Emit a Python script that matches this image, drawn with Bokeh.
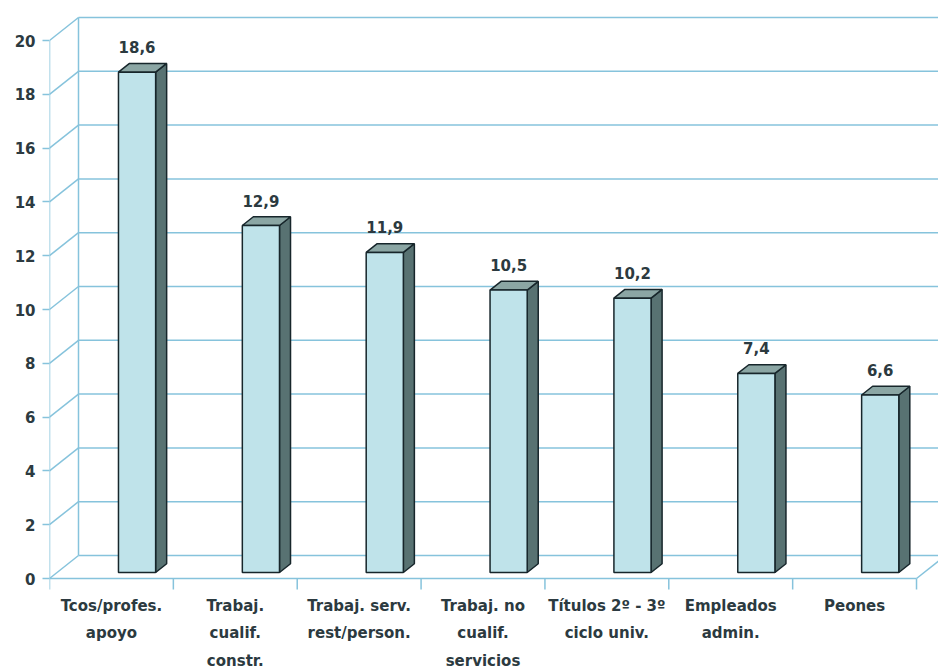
from bokeh.plotting import figure
from bokeh.models import Range1d, LinearAxis, FixedTicker, ColumnDataSource
from bokeh.embed import file_html
from bokeh.resources import INLINE
from bokeh.core.properties import value

# ---- data -------------------------------------------------------------
categories = [
    "Tcos/profes.\napoyo",
    "Trabaj.\ncualif.\nconstr.",
    "Trabaj. serv.\nrest/person.",
    "Trabaj. no\ncualif.\nservicios",
    "Títulos 2º - 3º\nciclo univ.",
    "Empleados\nadmin.",
    "Peones",
]
values = [18.6, 12.9, 11.9, 10.5, 10.2, 7.4, 6.6]
y_ticks = [0, 2, 4, 6, 8, 10, 12, 14, 16, 18, 20]

# ---- pseudo-3D geometry -----------------------------------------------
W, H = 938, 671
LEFT_PX = 49            # front value axis position
PX_PER_CAT = 123.86     # width of one category on the front edge
PX_PER_UNIT = 26.9      # pixels per value unit
ZERO_PX = 578           # y pixel of value 0 on the front plane

WALL_DX = 29 / PX_PER_CAT      # depth shift of the back wall (x units)
WALL_DY = 23 / PX_PER_UNIT     # depth shift of the back wall (value units)

BAR_D0, BAR_D1 = 0.26, 0.64    # bar depth span (0 = front, 1 = back wall)
BAR_LEFT = 0.496               # bar left edge inside its category
BAR_W = 0.30                   # bar width in category units

GRID = "#86c3dc"
TEXT = "#2c3a40"
FRONT = "#bfe3ea"
SIDE = "#587272"
TOP = "#8ba6a4"
EDGE = "#17262b"
FONT = "DejaVu Sans"


def project(x, v, d):
    return x + d * WALL_DX, v + d * WALL_DY


n = len(values)
y_top = ZERO_PX / PX_PER_UNIT
y_bot = -(H - ZERO_PX) / PX_PER_UNIT
x_max = (W - LEFT_PX) / PX_PER_CAT

p = figure(
    width=W, height=H,
    x_range=Range1d(0, x_max), y_range=Range1d(y_bot, y_top),
    x_axis_type=None, y_axis_type=None,
    toolbar_location=None, output_backend="svg",
    min_border_left=LEFT_PX, min_border_right=0,
    min_border_top=0, min_border_bottom=0,
)
p.outline_line_color = None
p.background_fill_color = "white"
p.border_fill_color = "white"
p.xgrid.visible = False
p.ygrid.visible = False

# value axis with its tick labels
yaxis = LinearAxis(ticker=FixedTicker(ticks=y_ticks))
yaxis.axis_line_color = None
yaxis.major_tick_line_color = GRID
yaxis.major_tick_line_width = 1.5
yaxis.major_tick_out = 7
yaxis.major_tick_in = 0
yaxis.minor_tick_line_color = None
yaxis.major_label_standoff = 7
yaxis.major_label_text_font = FONT
yaxis.major_label_text_font_style = "bold"
yaxis.major_label_text_font_size = "15px"
yaxis.major_label_text_color = TEXT
p.add_layout(yaxis, "left")

# back wall gridlines and side wall diagonals
bx0, _ = project(0, 0, 1)
p.segment(x0=[bx0] * len(y_ticks), y0=[t + WALL_DY for t in y_ticks],
          x1=[x_max] * len(y_ticks), y1=[t + WALL_DY for t in y_ticks],
          line_color=GRID, line_width=1.5)
p.segment(x0=[0] * len(y_ticks), y0=y_ticks,
          x1=[WALL_DX] * len(y_ticks), y1=[t + WALL_DY for t in y_ticks],
          line_color=GRID, line_width=1.5)
# back wall left edge and front value axis line
p.segment(x0=[bx0, 0], y0=[WALL_DY, 0], x1=[bx0, 0],
          y1=[y_ticks[-1] + WALL_DY, y_ticks[-1]],
          line_color=GRID, line_width=1.5)
# floor front edge and its right-hand diagonal
p.segment(x0=[0, n], y0=[0, 0], x1=[n, n + WALL_DX], y1=[0, WALL_DY],
          line_color=GRID, line_width=1.5)
# category ticks under the floor
tick_len = 11 / PX_PER_UNIT
p.segment(x0=list(range(n + 1)), y0=[0] * (n + 1),
          x1=list(range(n + 1)), y1=[-tick_len] * (n + 1),
          line_color=GRID, line_width=1.5)

# bars: front, side and top faces
front_l, front_r, front_b, front_t = [], [], [], []
side_xs, side_ys, top_xs, top_ys = [], [], [], []
lab_x, lab_y, lab_t = [], [], []
ddx = (BAR_D1 - BAR_D0) * WALL_DX
ddy = (BAR_D1 - BAR_D0) * WALL_DY
for i, val in enumerate(values):
    x0, vb = project(i + BAR_LEFT, 0, BAR_D0)
    x1 = x0 + BAR_W
    vt = vb + val
    front_l.append(x0); front_r.append(x1)
    front_b.append(vb); front_t.append(vt)
    side_xs.append([x1, x1, x1 + ddx, x1 + ddx])
    side_ys.append([vb, vt, vt + ddy, vb + ddy])
    top_xs.append([x0, x1, x1 + ddx, x0 + ddx])
    top_ys.append([vt, vt, vt + ddy, vt + ddy])
    lab_x.append((x0 + x1) / 2)
    lab_y.append(vt + 25 / PX_PER_UNIT)
    lab_t.append(f"{val:.1f}".replace(".", ","))

p.patches(xs=side_xs, ys=side_ys, fill_color=SIDE,
          line_color=EDGE, line_width=1.5)
p.patches(xs=top_xs, ys=top_ys, fill_color=TOP,
          line_color=EDGE, line_width=1.5)
p.quad(left=front_l, right=front_r, bottom=front_b, top=front_t,
       fill_color=FRONT, line_color=EDGE, line_width=1.5)

# value labels above the bars
p.text(x=lab_x, y=lab_y, text=lab_t, text_align="center",
       text_baseline="middle", text_font=value(FONT),
       text_font_style="bold", text_font_size="15px", text_color=TEXT)

# category labels, one glyph row per text line
FIRST_LINE_PX = 605
LINE_STEP_PX = 27.5
cx, cy, ct = [], [], []
for i, name in enumerate(categories):
    for j, line in enumerate(name.split("\n")):
        cx.append(i + 0.5)
        cy.append(-(FIRST_LINE_PX - ZERO_PX + j * LINE_STEP_PX) / PX_PER_UNIT)
        ct.append(line)
p.text(x=cx, y=cy, text=ct, text_align="center", text_baseline="middle",
       text_font=value(FONT), text_font_style="bold",
       text_font_size="15px", text_color=TEXT)

with open("out.html", "w") as f:
    f.write(file_html(p, INLINE))
